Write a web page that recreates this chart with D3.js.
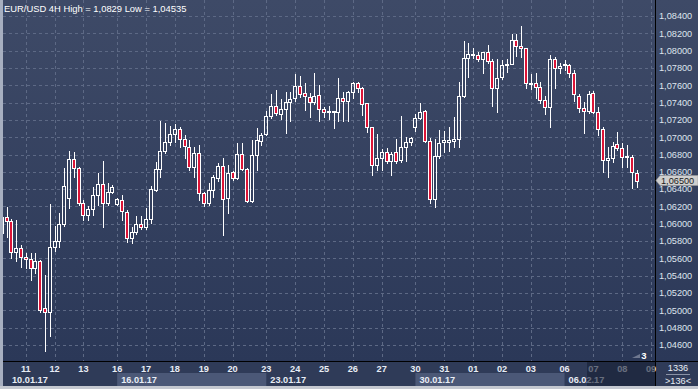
<!DOCTYPE html>
<html><head><meta charset="utf-8">
<script src="https://cdn.jsdelivr.net/npm/d3@7"></script>
<style>html,body{margin:0;padding:0;background:#c4c8d0;}svg{display:block;}</style>
</head><body>
<svg id="c" width="698" height="389"></svg>
<script>
const openP = [1.05895,1.06079,1.06033,1.05675,1.05721,1.05617,1.05594,1.05490,1.05571,1.05029,
1.04983,1.05733,1.05802,1.05999,1.06300,1.06750,1.06646,1.06241,1.06102,1.06172,
1.06334,1.06461,1.06241,1.06369,1.06229,1.06275,1.06137,1.05837,1.05906,1.05999,
1.05964,1.06056,1.06392,1.06634,1.06842,1.06946,1.07038,1.07096,1.06980,1.06888,
1.06657,1.06819,1.06357,1.06241,1.06392,1.06530,1.06669,1.06300,1.06600,1.06530,
1.06807,1.06634,1.06264,1.06796,1.06957,1.07038,1.07246,1.07361,1.07269,1.07326,
1.07407,1.07453,1.07592,1.07511,1.07465,1.07407,1.07488,1.07326,1.07292,1.07303,
1.07292,1.07453,1.07419,1.07523,1.07627,1.07569,1.07396,1.07119,1.06680,1.06761,
1.06830,1.06726,1.06830,1.06738,1.06888,1.06946,1.07119,1.07223,1.07303,1.06957,
1.06288,1.06784,1.06946,1.06946,1.06957,1.06980,1.07477,1.07915,1.07950,1.07950,
1.07904,1.07984,1.07881,1.07569,1.07696,1.07834,1.07846,1.08123,1.08054,1.08031,
1.07615,1.07627,1.07580,1.07430,1.07350,1.07904,1.07800,1.07834,1.07834,1.07742,
1.07477,1.07338,1.07303,1.07511,1.07292,1.07096,1.06738,1.06761,1.06923,1.06876,
1.06773,1.06773,1.06588];
const highP = [1.06195,1.06195,1.06056,1.06045,1.05756,1.05664,1.05664,1.05664,1.05583,1.05410,
1.06229,1.05976,1.06126,1.06646,1.06842,1.06830,1.06657,1.06275,1.06206,1.06427,
1.06588,1.06726,1.06473,1.06450,1.06300,1.06334,1.06160,1.05964,1.06091,1.06091,
1.06183,1.06438,1.06715,1.07188,1.07165,1.07130,1.07153,1.07119,1.07026,1.06969,
1.06888,1.06911,1.06369,1.06473,1.06565,1.06703,1.06761,1.06680,1.06611,1.06934,
1.06934,1.06646,1.06969,1.07107,1.07049,1.07303,1.07500,1.07546,1.07442,1.07523,
1.07523,1.07731,1.07707,1.07627,1.07511,1.07742,1.07604,1.07350,1.07361,1.07303,
1.07684,1.07523,1.07534,1.07638,1.07638,1.07580,1.07396,1.07119,1.07038,1.06865,
1.06876,1.06830,1.06980,1.07246,1.07003,1.07003,1.07269,1.07396,1.07315,1.06992,
1.06980,1.07084,1.07072,1.07119,1.07234,1.07638,1.08111,1.08088,1.08031,1.07984,
1.07984,1.08065,1.07904,1.07904,1.07892,1.07904,1.08192,1.08192,1.08290,1.08031,
1.07731,1.07742,1.07638,1.07477,1.07950,1.07927,1.07858,1.07892,1.07846,1.07777,
1.07500,1.07407,1.07534,1.07534,1.07350,1.07119,1.06888,1.06946,1.07061,1.06934,
1.06911,1.06796,1.06623];
const lowP = [1.05814,1.05849,1.05606,1.05571,1.05502,1.05490,1.05352,1.05433,1.04983,1.04535,
1.04705,1.05687,1.05733,1.05976,1.06183,1.06542,1.06218,1.06045,1.06045,1.06102,
1.06218,1.05964,1.06218,1.06357,1.06218,1.06045,1.05791,1.05779,1.05883,1.05941,
1.05941,1.06010,1.06380,1.06542,1.06819,1.06911,1.06946,1.06888,1.06761,1.06623,
1.06542,1.06275,1.06206,1.06218,1.06311,1.06496,1.05872,1.06126,1.06507,1.06519,
1.06623,1.06252,1.06252,1.06623,1.06911,1.07026,1.07223,1.07257,1.07211,1.07049,
1.07188,1.07419,1.07465,1.07315,1.07234,1.07384,1.07188,1.07234,1.07211,1.07107,
1.07188,1.07188,1.07188,1.07453,1.07523,1.07257,1.07061,1.06565,1.06623,1.06623,
1.06703,1.06565,1.06703,1.06715,1.06726,1.06911,1.07072,1.07211,1.06946,1.06241,
1.06195,1.06761,1.06830,1.06842,1.06888,1.06888,1.07465,1.07696,1.07915,1.07881,
1.07742,1.07858,1.07361,1.07292,1.07673,1.07754,1.07846,1.07938,1.07927,1.07569,
1.07557,1.07453,1.07396,1.07269,1.07119,1.07569,1.07742,1.07777,1.07696,1.07419,
1.07292,1.07049,1.07280,1.07280,1.07026,1.06600,1.06542,1.06715,1.06853,1.06657,
1.06657,1.06415,1.06427];
const closeP = [1.06079,1.06033,1.05675,1.05721,1.05617,1.05594,1.05490,1.05571,1.05006,1.04983,
1.05733,1.05802,1.05999,1.06438,1.06750,1.06646,1.06241,1.06102,1.06172,1.06334,
1.06461,1.06241,1.06369,1.06427,1.06288,1.06149,1.05837,1.05906,1.05999,1.05964,
1.06056,1.06404,1.06634,1.06842,1.06946,1.07038,1.07096,1.06980,1.06899,1.06657,
1.06819,1.06357,1.06241,1.06392,1.06542,1.06669,1.06288,1.06588,1.06530,1.06807,
1.06634,1.06264,1.06796,1.06969,1.07026,1.07246,1.07361,1.07280,1.07326,1.07407,
1.07442,1.07592,1.07500,1.07477,1.07407,1.07477,1.07326,1.07292,1.07303,1.07292,
1.07453,1.07419,1.07523,1.07627,1.07569,1.07384,1.07119,1.06680,1.06761,1.06830,
1.06726,1.06807,1.06726,1.06888,1.06946,1.06992,1.07223,1.07292,1.06957,1.06288,
1.06784,1.06934,1.06969,1.06969,1.06980,1.07477,1.07915,1.07961,1.07958,1.07904,
1.07984,1.07881,1.07569,1.07684,1.07834,1.07846,1.08123,1.08054,1.08031,1.07627,
1.07627,1.07580,1.07430,1.07350,1.07904,1.07800,1.07823,1.07846,1.07742,1.07500,
1.07338,1.07303,1.07500,1.07292,1.07096,1.06738,1.06761,1.06899,1.06876,1.06773,
1.06784,1.06600,1.06500];

const dayLabels = ["11","12","13","16","17","18","19","20","23","24","25","26","27","30","31","01","02","03","06","07","08","09"];
const dayStartIdx = [5,11,17,24,30,36,42,48,55,61,67,73,79,86,92,98,104,110,117,123,129,135];
const weekLabels = ["10.01.17","16.01.17","23.01.17","30.01.17","06.02.17"];
const weekStartIdx = [0,24,55,86,117];
const priceTicks = [1.084,1.082,1.080,1.078,1.076,1.074,1.072,1.070,1.068,1.066,1.064,1.062,1.060,1.058,1.056,1.054,1.052,1.050,1.048,1.046];
const titleText = "EUR/USD 4H High = 1,0829 Low = 1,04535";
const currentPrice = 1.065;

const FONT = "'Liberation Sans', Arial, sans-serif";
const svg = d3.select("#c");
const W = 698, H = 389;
const plotL = 3, plotR = 655, plotB = 361, axisB = 386;

const x = d3.scaleLinear().domain([0, 132]).range([1.7, 636.7]);
const y = d3.scaleLinear().domain([1.084, 1.046]).range([16, 345]);
const fmt = v => v.toFixed(5).replace(".", ",");

const defs = svg.append("defs");
const g = defs.append("linearGradient").attr("id","bg").attr("x1",0).attr("y1",0).attr("x2",0).attr("y2",1);
g.append("stop").attr("offset","0%").attr("stop-color","#3e4a67");
g.append("stop").attr("offset","100%").attr("stop-color","#2b3858");
defs.append("clipPath").attr("id","clip").append("rect")
  .attr("x",plotL).attr("y",0).attr("width",plotR-plotL).attr("height",plotB);

// background
svg.append("rect").attr("x",0).attr("y",0).attr("width",W).attr("height",H).attr("fill","#c4c8d0");
svg.append("rect").attr("x",0).attr("y",0).attr("width",3).attr("height",axisB).attr("fill","#a7afc0");
svg.append("rect").attr("x",plotL).attr("y",0).attr("width",W-plotL).attr("height",plotB).attr("fill","url(#bg)");
svg.append("rect").attr("x",plotL).attr("y",plotB).attr("width",W-plotL).attr("height",axisB-plotB).attr("fill","#2f3b58");

// week boxes (alternating)
const weekEnds = weekStartIdx.slice(1).concat([200]);
svg.append("g").selectAll("rect").data(weekLabels).join("rect")
  .attr("x", (d,i) => Math.max(plotL, x(weekStartIdx[i])))
  .attr("y", 373)
  .attr("width", (d,i) => Math.min(plotR, x(weekEnds[i])) - Math.max(plotL, x(weekStartIdx[i])))
  .attr("height", axisB - 373)
  .attr("fill", (d,i) => i % 2 === 1 ? "#4b5877" : "none");

// grid
const grid = svg.append("g").attr("clip-path","url(#clip)")
  .attr("stroke","#5d6985").attr("stroke-width",1).attr("stroke-dasharray","3,3");
grid.selectAll("line.h").data(priceTicks).join("line").attr("class","h")
  .attr("x1",plotL).attr("x2",plotR)
  .attr("y1",d=>Math.round(y(d))+0.5).attr("y2",d=>Math.round(y(d))+0.5);
grid.selectAll("line.v").data(dayStartIdx).join("line").attr("class","v")
  .attr("x1",d=>Math.round(x(d))+0.5).attr("x2",d=>Math.round(x(d))+0.5)
  .attr("y1",0).attr("y2",plotB);

// candles
const idx = d3.range(openP.length);
const cg = svg.append("g").attr("clip-path","url(#clip)");
const px = i => Math.round(x(i));
cg.selectAll("line.wt").data(idx).join("line").attr("class","wt")
  .attr("x1",i=>px(i)+0.5).attr("x2",i=>px(i)+0.5)
  .attr("y1",i=>Math.round(y(highP[i])))
  .attr("y2",i=>Math.round(y(Math.max(openP[i],closeP[i]))))
  .attr("stroke","#ffffff").attr("stroke-width",1);
cg.selectAll("line.wb").data(idx).join("line").attr("class","wb")
  .attr("x1",i=>px(i)+0.5).attr("x2",i=>px(i)+0.5)
  .attr("y1",i=>Math.round(y(Math.min(openP[i],closeP[i]))))
  .attr("y2",i=>Math.round(y(lowP[i]))+1)
  .attr("stroke","#ffffff").attr("stroke-width",1);
cg.selectAll("rect.b").data(idx).join("rect").attr("class","b")
  .attr("x",i=>px(i)-1.5)
  .attr("width",3)
  .attr("y",i=>Math.round(y(Math.max(openP[i],closeP[i])))+0.5)
  .attr("height",i=>Math.max(1, Math.round(y(Math.min(openP[i],closeP[i]))) - Math.round(y(Math.max(openP[i],closeP[i])))))
  .attr("fill",i=>closeP[i] >= openP[i] ? "none" : "#dc1437")
  .attr("stroke","#ffffff").attr("stroke-width",1);

// borders
svg.append("line").attr("x1",655.5).attr("x2",655.5).attr("y1",0).attr("y2",axisB).attr("stroke","#000").attr("stroke-width",1);
svg.append("line").attr("x1",plotL).attr("x2",W).attr("y1",361.5).attr("y2",361.5).attr("stroke","#000").attr("stroke-width",1);

// y axis labels
svg.append("g").selectAll("text").data(priceTicks).join("text")
  .attr("x",659).attr("y",d=>y(d)+3.3)
  .attr("font-family",FONT).attr("font-size",9.2).attr("fill","#dfe5ee")
  .text(fmt);

// current price tag
const cy = y(currentPrice);
svg.append("path")
  .attr("d",`M656,${cy} L660,${cy-5} L698,${cy-5} L698,${cy+5} L660,${cy+5} Z`)
  .attr("fill","#cfcfcf").attr("stroke","#9a9a9a").attr("stroke-width",0.6);
svg.append("text").attr("x",661).attr("y",cy+3.3)
  .attr("font-family",FONT).attr("font-size",9.2).attr("fill","#1b1b1b").text(fmt(currentPrice));

// x axis day labels
svg.append("g").selectAll("text").data(dayLabels).join("text")
  .attr("x",(d,i)=>x(dayStartIdx[i])).attr("y",372.3)
  .attr("text-anchor","middle")
  .attr("font-family",FONT).attr("font-size",9.2).attr("font-weight","bold").attr("fill","#e8edf5")
  .text(d=>d);
// week labels
svg.append("g").selectAll("text").data(weekLabels).join("text")
  .attr("x",(d,i)=> i===0 ? 12 : x(weekStartIdx[i])+4)
  .attr("y",382.6)
  .attr("font-family",FONT).attr("font-size",9.2).attr("font-weight","bold").attr("fill","#e8edf5")
  .text(d=>d);
// dark overlay on right part of time bar
svg.append("rect").attr("x",587).attr("y",362).attr("width",655-587).attr("height",axisB-362)
  .attr("fill","rgba(24,32,54,0.62)");

// bottom-right box
svg.append("text").attr("x",678).attr("y",370.5).attr("text-anchor","middle")
  .attr("font-family",FONT).attr("font-size",9.2).attr("fill","#e8edf5").text("1336");
svg.append("line").attr("x1",666).attr("x2",690).attr("y1",374.5).attr("y2",374.5).attr("stroke","#8a93a6");
svg.append("text").attr("x",678).attr("y",384).attr("text-anchor","middle")
  .attr("font-family",FONT).attr("font-size",9.2).attr("fill","#e8edf5").text(">136<");

// counter
svg.append("path").attr("d","M632,358 L640,354 L640,358 Z").attr("fill","#6f7890");
svg.append("text").attr("x",644).attr("y",358.5).attr("text-anchor","middle")
  .attr("font-family",FONT).attr("font-size",9.5).attr("font-weight","bold").attr("fill","#ffffff").text("3");

// title
svg.append("text").attr("x",4).attr("y",11.5)
  .attr("font-family",FONT).attr("font-size",9.4).attr("fill","#ffffff").text(titleText);
</script>
</body></html>
